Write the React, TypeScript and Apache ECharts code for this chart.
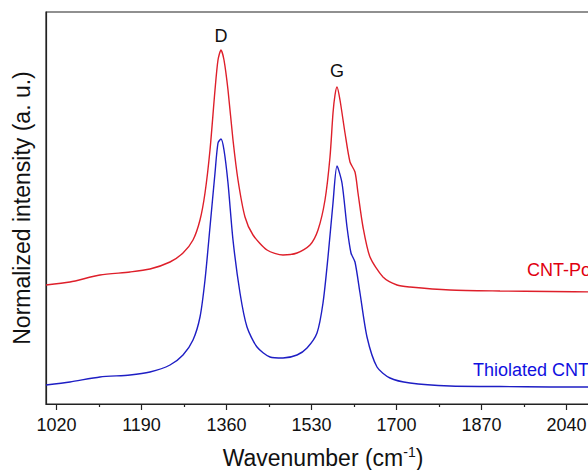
import React, { useEffect, useRef } from "react";
import * as echarts from "echarts";

const FONT = "Arial, Liberation Sans, Helvetica, sans-serif";

// Wavenumber (cm-1) and normalized intensity (a. u., offset curves)
const redX = [999, 1047, 1107, 1167, 1207, 1247, 1273, 1293, 1307, 1317, 1327, 1337, 1343, 1349, 1355, 1363, 1373, 1383, 1397, 1413, 1441, 1473, 1501, 1527, 1543, 1557, 1567, 1573, 1577, 1581, 1587, 1597, 1607, 1617, 1623, 1633, 1647, 1673, 1701, 1727, 1807, 1907, 2007, 2110];
const redY = [119, 122, 129, 132, 135, 142, 151, 164, 184, 211, 254, 314, 344, 354, 344, 314, 264, 224, 187, 169, 154, 149, 151, 159, 174, 204, 247, 291, 309, 317, 304, 271, 242, 232, 211, 177, 147, 127, 119, 117, 114, 113, 112.5, 112];

const blueX = [999, 1047, 1107, 1167, 1207, 1247, 1273, 1293, 1307, 1317, 1327, 1337, 1343, 1349, 1355, 1363, 1373, 1387, 1401, 1421, 1447, 1473, 1501, 1521, 1541, 1553, 1563, 1573, 1581, 1591, 1601, 1609, 1617, 1627, 1641, 1661, 1687, 1727, 1807, 1907, 2007, 2110];
const blueY = [19, 22, 27, 29, 32, 39, 49, 64, 87, 124, 177, 231, 261, 265, 254, 221, 164, 111, 77, 57, 47, 46, 49, 56, 71, 101, 147, 201, 238, 221, 177, 151, 142, 111, 67, 37, 26, 21, 18, 17.5, 17, 17];

const majorTicks = [1020, 1190, 1360, 1530, 1700, 1870, 2040];
const minorTicks = [1105, 1275, 1445, 1615, 1785, 1955];

const seriesNames = ["CNT-Po", "Thiolated CNT"];
const peakLabels = ["D", "G"];

const RED = "#de1f2a";
const BLUE = "#1e1ec4";

export default function App() {
  const ref = useRef<HTMLDivElement>(null);
  useEffect(() => {
    if (!ref.current) return;
    const chart = echarts.init(ref.current, null, { renderer: "svg" });
    const zip = (xs: number[], ys: number[]) => xs.map((x, i) => [x, ys[i]]);
    chart.setOption({
      animation: false,
      backgroundColor: "#ffffff",
      grid: {
        left: 46,
        top: 12,
        width: 555.5,
        height: 392,
        show: true,
        borderColor: "#222",
        borderWidth: 1.2,
        containLabel: false,
      },
      xAxis: [
        {
          type: "value",
          min: 999,
          max: 2110,
          position: "bottom",
          axisLine: { show: true, lineStyle: { color: "#222", width: 1.2 } },
          axisTick: {
            show: true,
            inside: false,
            length: 6,
            customValues: majorTicks,
            lineStyle: { color: "#222", width: 1.2 },
          },
          axisLabel: {
            show: true,
            customValues: majorTicks,
            formatter: (v: number) => String(v),
            fontSize: 18,
            fontFamily: FONT,
            color: "#111",
            margin: 12,
          },
          splitLine: { show: false },
        },
        {
          type: "value",
          min: 999,
          max: 2110,
          position: "bottom",
          axisLine: { show: false },
          axisTick: {
            show: true,
            inside: false,
            length: 3,
            customValues: minorTicks,
            lineStyle: { color: "#222", width: 1.2 },
          },
          axisLabel: { show: false },
          splitLine: { show: false },
        },
      ],
      yAxis: {
        type: "value",
        min: 0,
        max: 392,
        axisLine: { show: true, lineStyle: { color: "#222", width: 1.2 } },
        axisTick: { show: false },
        axisLabel: { show: false },
        splitLine: { show: false },
      },
      series: [
        {
          name: seriesNames[0],
          type: "line",
          xAxisIndex: 0,
          data: zip(redX, redY),
          showSymbol: false,
          smooth: 0.25,
          lineStyle: { color: RED, width: 1.4 },
        },
        {
          name: seriesNames[1],
          type: "line",
          xAxisIndex: 0,
          data: zip(blueX, blueY),
          showSymbol: false,
          smooth: 0.25,
          lineStyle: { color: BLUE, width: 1.4 },
        },
      ],
      graphic: [
        {
          type: "text",
          x: 221,
          y: 36,
          style: { text: peakLabels[0], fontSize: 18, fontFamily: FONT, fill: "#111", textAlign: "center", textVerticalAlign: "middle" },
        },
        {
          type: "text",
          x: 337,
          y: 71,
          style: { text: peakLabels[1], fontSize: 18, fontFamily: FONT, fill: "#111", textAlign: "center", textVerticalAlign: "middle" },
        },
        {
          type: "text",
          x: 527,
          y: 270,
          style: { text: seriesNames[0], fontSize: 18, fontFamily: FONT, fill: "#e00010", textAlign: "left", textVerticalAlign: "middle" },
        },
        {
          type: "text",
          x: 473,
          y: 370,
          style: { text: seriesNames[1], fontSize: 18, fontFamily: FONT, fill: "#1010e0", textAlign: "left", textVerticalAlign: "middle" },
        },
        {
          type: "text",
          x: 323,
          y: 458,
          style: {
            text: "Wavenumber (cm{sup|-1})",
            fontSize: 23,
            fontFamily: FONT,
            fill: "#111",
            textAlign: "center",
            textVerticalAlign: "middle",
            rich: {
              sup: { fontSize: 14, fontFamily: FONT, fill: "#111", padding: [0, 0, 12, 0] },
            },
          },
        },
        {
          type: "text",
          x: 22,
          y: 208,
          rotation: Math.PI / 2,
          style: {
            text: "Normalized intensity (a. u.)",
            fontSize: 23,
            fontFamily: FONT,
            fill: "#111",
            textAlign: "center",
            textVerticalAlign: "middle",
          },
        },
      ],
    });
    return () => chart.dispose();
  }, []);
  return (
    <div style={{ position: "absolute", left: 0, top: 0, width: 588, height: 470, overflow: "hidden", background: "#fff" }}>
      <div ref={ref} style={{ width: 640, height: 470 }} />
    </div>
  );
}
